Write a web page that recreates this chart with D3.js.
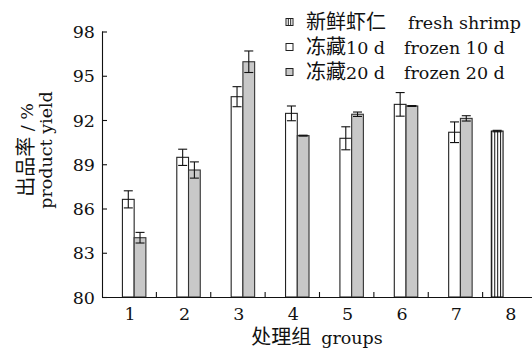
<!DOCTYPE html>
<html>
<head>
<meta charset="utf-8">
<script src="https://cdn.jsdelivr.net/npm/d3@7"></script>
<style>
  body { margin: 0; background: #fff; }
  text { font-family: "DejaVu Serif", "Noto Sans CJK SC", serif; fill: #111; }
</style>
</head>
<body>
<div id="chart"></div>
<script>
// data
const groups = ["1", "2", "3", "4", "5", "6", "7", "8"]
const seriesKeys = ["fresh", "d10", "d20"]
const seriesZh = ["新鲜虾仁", "冻藏10 d", "冻藏20 d"]
const seriesEn = ["fresh shrimp", "frozen 10 d", "frozen 20 d"]
const freshVals = [null, null, null, null, null, null, null, 91.25]
const freshErr = [null, null, null, null, null, null, null, 0.05]
const d10Vals = [86.62, 89.47, 93.58, 92.45, 90.76, 93.06, 91.17, null]
const d10Err = [0.58, 0.55, 0.68, 0.5, 0.78, 0.8, 0.7, null]
const d20Vals = [84.02, 88.61, 95.95, 90.94, 92.39, 92.95, 92.11, null]
const d20Err = [0.36, 0.55, 0.73, 0.03, 0.15, 0.03, 0.18, null]
const yTicks = [80, 83, 86, 89, 92, 95, 98]

// ----------------------------------------------------------

const W = 532, H = 350
const plotLeft = 102, plotRight = 537, plotTop = 31.5, plotBottom = 297
const zhStyle = "font-family:'Noto Sans CJK SC';font-size:20px"

const svg = d3.select("#chart").append("svg")
    .attr("width", W).attr("height", H)

// long table for the bars
const bars = []
groups.forEach((g, i) => {
    if (freshVals[i] != null) bars.push({ g: g, key: "fresh", v: freshVals[i], e: freshErr[i] })
    if (d10Vals[i] != null) bars.push({ g: g, key: "d10", v: d10Vals[i], e: d10Err[i] })
    if (d20Vals[i] != null) bars.push({ g: g, key: "d20", v: d20Vals[i], e: d20Err[i] })
})

const x0 = d3.scaleBand().domain(groups).range([plotLeft, plotRight]).padding(0)
const bw = x0.bandwidth()
const x1 = d3.scaleBand().domain(seriesKeys).range([bw / 2 - 18.5, bw / 2 + 16.7]).padding(0)
const y = d3.scaleLinear().domain([80, 98]).range([plotBottom, plotTop])

const defs = svg.append("defs")
// vertical line hatch for fresh shrimp
const pw = x1.bandwidth() / 4
const pat = defs.append("pattern").attr("id", "vlines")
    .attr("patternUnits", "userSpaceOnUse")
    .attr("width", pw).attr("height", 10)
    .attr("x", x0("8") + x1("fresh"))
pat.append("rect").attr("width", pw).attr("height", 10).attr("fill", "#fff")
pat.append("line").attr("x1", 0.5).attr("x2", 0.5).attr("y1", 0).attr("y2", 10)
    .attr("stroke", "#111").attr("stroke-width", 1)

const fills = { fresh: "url(#vlines)", d10: "#ffffff", d20: "#c8c8c8" }
const strokes = { fresh: "#111", d10: "#222", d20: "#333" }

const barGroup = svg.append("g").attr("id", "bars")
barGroup.selectAll("rect").data(bars).enter().append("rect")
    .attr("x", d => x0(d.g) + x1(d.key))
    .attr("y", d => y(d.v))
    .attr("width", x1.bandwidth())
    .attr("height", d => y(80) - y(d.v))
    .attr("fill", d => fills[d.key])
    .attr("stroke", d => strokes[d.key])
    .attr("stroke-width", 1.1)

// error bars
const errGroup = svg.append("g").attr("id", "errors")
    .attr("stroke", "#111").attr("stroke-width", 1.1)
bars.forEach(d => {
    const cx = x0(d.g) + x1(d.key) + x1.bandwidth() / 2
    errGroup.append("line").attr("x1", cx).attr("x2", cx)
        .attr("y1", y(d.v + d.e)).attr("y2", y(d.v - d.e))
    errGroup.append("line").attr("x1", cx - 4.5).attr("x2", cx + 4.5)
        .attr("y1", y(d.v + d.e)).attr("y2", y(d.v + d.e))
    errGroup.append("line").attr("x1", cx - 4.5).attr("x2", cx + 4.5)
        .attr("y1", y(d.v - d.e)).attr("y2", y(d.v - d.e))
})

// axes
const axisGroup = svg.append("g").attr("id", "axes")
const yAxis = d3.axisRight(y).tickValues(yTicks).tickSize(5).tickFormat("")
axisGroup.append("g").attr("transform", "translate(" + plotLeft + ",0)").call(yAxis)
    .call(g => g.select(".domain").attr("d", "M0.5," + plotTop + "V" + plotBottom))
const xAxis = d3.axisTop(x0).tickSize(0).tickFormat("")
axisGroup.append("g").attr("transform", "translate(0," + plotBottom + ")").call(xAxis)
    .call(g => g.select(".domain").attr("d", "M" + plotLeft + ",0.5H" + (W + 5)))
// small separator ticks between groups
axisGroup.selectAll(".sep").data(groups.slice(1)).enter().append("line")
    .attr("x1", d => x0(d)).attr("x2", d => x0(d))
    .attr("y1", plotBottom).attr("y2", plotBottom - 5)
axisGroup.selectAll("path, line").attr("stroke", "#111").attr("stroke-width", 1.1)

// tick labels
svg.selectAll(".ylab").data(yTicks).enter().append("text")
    .attr("x", 95).attr("y", d => y(d) + 6.5)
    .attr("text-anchor", "end").style("font-size", "17.5px")
    .text(d => d)
svg.selectAll(".xlab").data(groups).enter().append("text")
    .attr("x", d => x0(d) + bw / 2 + 1).attr("y", 320)
    .attr("text-anchor", "middle").style("font-size", "17.5px")
    .text(d => d)

// axis titles
svg.append("text").attr("x", 317).attr("y", 344).attr("text-anchor", "middle")
    .style("font-size", "17.5px")
    .html('<tspan style="' + zhStyle + '">处理组</tspan><tspan dx="10">groups</tspan>')
const yt = svg.append("g").attr("transform", "translate(0,150) rotate(-90)")
yt.append("text").attr("x", 0).attr("y", 33).attr("text-anchor", "middle")
    .style("font-size", "17.5px")
    .html('<tspan style="' + zhStyle + '">出品率</tspan><tspan> / %</tspan>')
yt.append("text").attr("x", 0).attr("y", 52).attr("text-anchor", "middle")
    .style("font-size", "17.5px").text("product yield")

// legend
const legend = svg.append("g").attr("id", "legend")
const rowY = [22, 47, 72]
const enX = [408, 404, 404]
seriesKeys.forEach((k, i) => {
    const row = legend.append("g").attr("transform", "translate(0," + rowY[i] + ")")
    row.append("rect").attr("x", 286).attr("y", -3.5).attr("width", 7).attr("height", 7)
        .attr("fill", k == "d20" ? "#c8c8c8" : "#fff").attr("stroke", "#222").attr("stroke-width", 1)
    if (k == "fresh") {
        [288.3, 290.7].forEach(lx => row.append("line").attr("x1", lx).attr("x2", lx)
            .attr("y1", -3.5).attr("y2", 3.5).attr("stroke", "#222").attr("stroke-width", 1))
    }
    const zh = seriesZh[i].match(/^([^\d]+)(.*)$/)
    row.append("text").attr("x", 306).attr("y", 6.5).style("font-size", "17.5px")
        .html('<tspan style="' + zhStyle + '">' + zh[1] + '</tspan>' + (zh[2] ? '<tspan>' + zh[2] + '</tspan>' : ''))
    row.append("text").attr("x", enX[i]).attr("y", 6.5).style("font-size", "17.5px")
        .text(seriesEn[i])
})
</script>
</body>
</html>
